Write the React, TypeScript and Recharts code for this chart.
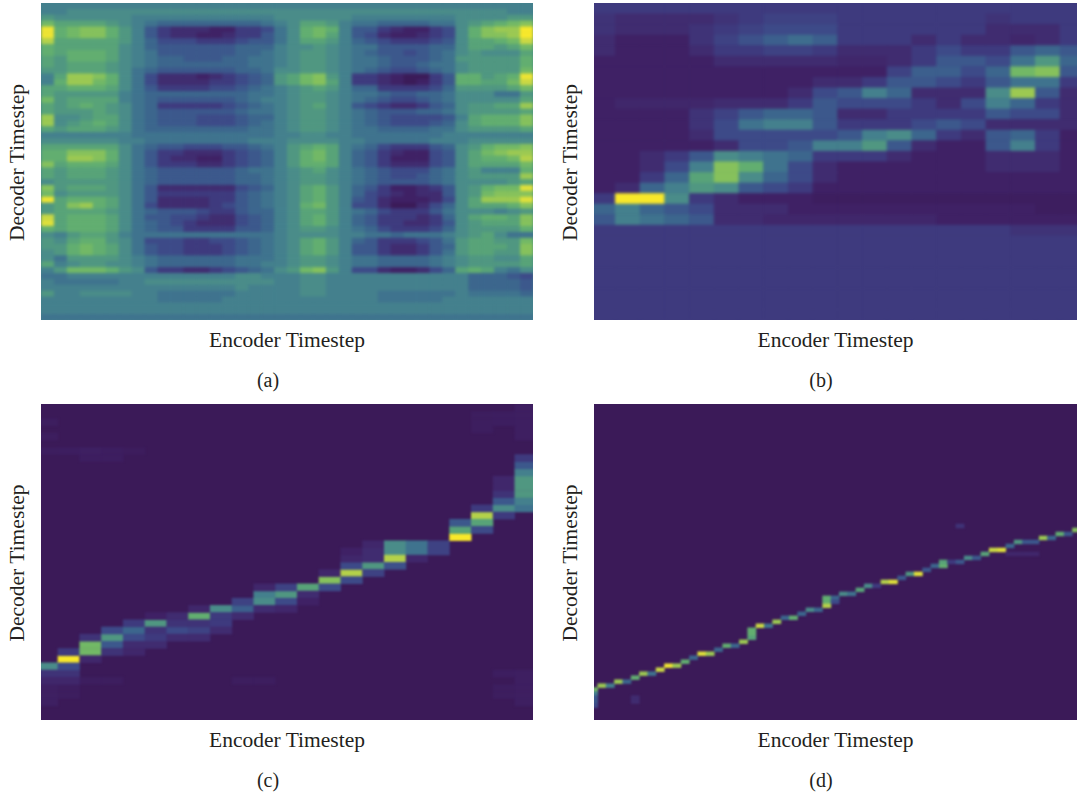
import React from "react";
import { ScatterChart, Scatter, XAxis, YAxis, CartesianGrid } from "recharts";

const xLabel = "Encoder Timestep";
const yLabel = "Decoder Timestep";
const captions = ["(a)", "(b)", "(c)", "(d)"];

const viridisSteps = ["#3b1a58","#3f2165","#402c70","#3e3a7e","#3d4a88","#3c588c","#3c668d","#3f738e","#44808d","#4a8c89","#509781","#58a378","#62ae70","#72b866","#86c15c","#9cc952","#b4d14a","#cad843","#dfe03a","#eee432","#f8e82a"];

const gridA: number[][] = [
[8,8,8,8,8,8,8,8,8,8,8,8,8,8,8,8,8,8,8,8,8,8,8,8,8,8,8,8,8,8,8,8,8,8,8,8,8,8],
[8,8,9,9,9,9,9,9,9,9,9,9,9,9,9,9,9,9,9,9,9,9,9,9,9,9,9,9,9,9,9,9,9,9,9,9,8,8],
[10,9,9,9,9,9,9,8,8,8,8,8,8,8,8,8,8,8,9,9,9,9,9,9,8,8,8,8,8,8,8,8,9,9,9,9,10,10],
[13,11,11,11,11,10,9,8,7,6,6,6,6,6,6,6,6,7,8,9,11,11,10,8,7,7,6,6,6,6,7,7,9,10,11,12,13,14],
[19,12,13,14,14,12,10,8,5,3,2,2,2,1,1,3,3,4,7,9,12,13,12,8,5,5,3,2,1,1,3,4,9,12,14,15,15,20],
[19,12,13,14,14,12,10,8,5,3,2,2,1,1,2,3,3,5,7,9,12,13,11,8,5,4,2,1,1,2,3,4,9,12,14,14,15,20],
[16,11,11,11,11,11,10,8,6,4,4,4,3,3,3,4,5,5,7,9,11,11,10,8,6,5,4,3,3,3,4,5,9,11,11,12,13,17],
[12,11,11,11,11,11,9,8,6,5,5,5,5,5,5,6,6,6,8,9,9,10,9,8,7,7,5,5,5,5,6,6,9,11,11,10,11,13],
[12,11,12,12,12,11,9,8,7,5,5,5,5,5,5,6,6,7,8,9,10,10,9,8,7,6,5,5,4,5,6,7,9,10,9,9,9,11],
[11,10,12,12,12,11,9,8,7,6,6,5,5,5,6,6,7,7,8,9,10,10,9,8,7,7,6,5,5,5,6,7,10,10,10,10,10,12],
[11,10,11,11,11,10,9,8,7,6,6,6,6,6,6,6,7,7,8,9,10,10,9,8,7,7,6,5,5,6,7,7,9,10,10,10,10,12],
[10,10,11,11,11,10,9,7,6,5,5,5,5,5,5,6,6,7,9,9,10,10,9,8,7,6,5,4,4,5,6,7,9,10,10,10,10,13],
[8,11,15,15,14,12,9,7,4,2,2,2,1,2,3,4,5,6,10,11,13,14,10,8,3,3,2,1,0,0,3,5,12,12,10,11,12,19],
[8,12,15,15,13,12,9,7,4,2,2,2,2,3,3,4,5,6,10,11,13,14,11,8,3,3,2,1,0,1,3,5,12,12,11,11,13,17],
[11,11,12,12,12,11,9,7,5,3,3,3,3,4,4,5,6,7,8,9,10,11,10,8,6,6,3,3,3,3,4,6,10,10,10,10,11,13],
[11,10,10,10,10,10,8,7,6,6,6,6,6,6,6,6,7,7,8,9,10,10,9,8,7,7,6,5,5,6,6,7,9,9,9,7,7,10],
[13,10,11,11,11,11,8,7,6,5,5,5,5,5,5,6,7,8,8,9,10,10,9,8,7,6,5,4,4,5,6,7,9,9,9,9,9,11],
[11,10,11,12,11,10,9,7,6,3,3,3,3,3,4,5,6,7,8,9,10,11,9,8,5,4,3,2,2,3,5,6,9,10,10,11,11,15],
[11,10,10,10,11,10,9,7,6,5,5,5,5,5,5,6,7,7,8,9,10,10,9,8,7,6,5,5,5,6,6,7,9,10,10,10,10,11],
[15,9,9,10,11,11,9,7,6,5,5,5,4,4,4,5,6,6,8,9,10,10,9,8,7,6,5,4,4,4,4,5,8,11,12,12,12,14],
[15,9,10,11,12,11,9,7,6,5,5,5,4,4,4,5,6,7,8,9,10,10,9,8,7,6,5,4,4,4,5,6,9,11,12,12,12,14],
[11,10,11,11,11,10,9,7,6,6,6,6,6,6,6,6,7,7,8,9,10,10,9,8,7,7,6,6,6,6,7,7,9,10,10,10,10,11],
[8,8,8,8,8,8,8,7,7,7,7,7,7,7,7,7,7,7,8,8,9,9,8,8,7,7,7,7,7,7,7,8,8,8,8,8,8,8],
[9,9,9,9,9,9,8,8,7,7,7,7,7,7,7,7,8,8,8,9,9,9,9,8,8,7,7,7,7,7,8,8,8,9,9,9,9,9],
[11,11,11,11,11,11,9,7,6,5,5,4,4,4,5,5,6,7,8,10,11,12,11,8,7,6,4,3,3,3,5,6,9,10,12,13,13,14],
[12,12,14,14,14,12,9,7,5,3,3,2,2,2,3,4,5,6,8,10,12,13,11,8,6,5,3,2,1,1,4,5,9,11,13,14,15,15],
[12,12,15,15,14,12,9,7,5,3,2,2,1,1,3,4,5,6,8,10,12,13,11,8,6,5,3,1,1,1,4,5,9,11,12,12,13,16],
[14,11,12,12,12,11,9,7,5,3,3,3,2,2,3,4,5,6,8,10,12,12,11,8,6,5,3,2,2,2,4,5,9,11,11,11,11,13],
[11,10,11,11,11,10,9,7,6,5,5,5,5,5,5,6,7,7,8,9,10,11,9,8,7,6,5,4,4,4,6,7,9,10,8,8,8,12],
[11,10,11,11,11,10,9,7,6,5,5,5,5,5,5,6,6,7,8,9,10,10,9,8,7,6,5,4,4,5,6,7,9,10,10,10,10,15],
[9,10,10,10,10,10,9,7,6,5,5,5,5,5,5,6,6,7,8,9,10,10,9,8,7,6,5,5,5,5,6,7,9,9,9,9,10,11],
[14,10,11,11,11,10,9,7,5,2,2,2,2,2,2,4,5,6,8,9,11,12,10,8,6,5,3,1,1,2,3,5,9,10,12,13,13,18],
[13,9,10,10,10,10,9,7,5,3,3,3,3,3,3,5,6,7,8,9,11,12,10,8,6,4,3,2,1,2,2,5,9,10,13,14,14,14],
[19,11,12,12,12,11,9,7,5,2,2,2,2,3,3,5,6,7,8,9,11,12,10,8,5,4,2,1,1,1,2,4,9,11,15,15,15,18],
[10,11,14,15,12,11,9,7,4,2,2,2,2,3,4,5,6,7,8,9,12,13,10,8,4,4,2,0,0,2,4,6,9,11,11,11,12,14],
[10,11,11,11,11,10,9,7,6,5,5,5,4,3,3,5,6,6,8,9,11,11,10,8,7,6,4,3,3,3,5,7,9,9,9,8,9,10],
[17,11,12,12,12,11,9,7,5,5,4,4,3,2,2,4,5,6,8,9,11,12,10,8,6,5,3,3,3,2,3,6,9,11,12,12,11,14],
[18,11,12,12,12,11,9,7,6,5,4,3,2,2,2,4,5,6,8,9,11,12,10,8,6,5,3,3,2,2,3,5,9,10,11,11,11,14],
[12,11,12,12,12,11,9,7,6,5,5,3,3,3,3,5,5,6,8,9,10,10,9,8,7,6,4,3,3,3,4,6,9,10,10,10,10,12],
[9,8,10,11,11,10,8,7,7,7,7,7,7,7,7,7,7,7,8,9,9,9,9,8,8,7,7,6,7,7,7,8,9,10,11,9,7,7],
[10,9,11,12,12,10,9,7,4,4,4,3,3,4,4,5,6,7,8,9,11,12,10,8,6,5,3,3,3,4,5,7,10,11,11,10,10,13],
[10,10,12,13,12,11,9,7,5,4,4,3,3,3,4,5,6,7,8,9,11,12,10,8,5,5,3,2,2,3,5,6,10,11,11,11,10,14],
[9,10,12,13,12,11,9,7,5,4,4,3,3,3,4,5,6,7,8,9,11,12,10,8,5,5,3,2,2,3,5,7,10,11,11,10,10,14],
[9,7,10,10,10,10,9,8,7,6,6,6,6,6,6,7,7,7,8,9,10,10,9,8,7,7,6,6,6,6,7,8,9,10,10,9,9,11],
[11,8,9,10,10,9,9,8,7,6,6,6,6,6,6,7,7,8,8,9,10,10,9,8,7,7,6,6,6,6,7,8,9,10,10,10,10,11],
[8,10,13,13,13,12,10,9,5,3,3,2,2,3,4,5,6,7,9,10,13,14,10,8,4,4,2,1,1,2,4,6,11,12,11,8,7,9],
[7,7,8,8,8,8,8,8,8,8,8,8,8,8,8,9,9,8,8,8,9,9,8,8,8,8,8,8,8,8,8,8,8,6,6,6,5,4],
[8,7,7,7,7,7,8,8,9,9,9,9,9,9,9,9,9,9,8,8,9,9,8,8,8,8,8,8,8,8,8,8,8,6,6,6,6,5],
[8,8,8,8,8,8,8,8,8,8,8,8,8,8,8,9,8,8,8,8,9,9,8,8,8,8,8,8,8,8,8,8,8,6,6,6,6,5],
[10,8,8,9,9,9,9,8,8,7,7,7,7,7,7,8,8,8,8,8,9,9,8,8,8,8,7,7,7,7,7,7,8,7,7,7,7,6],
[8,8,8,8,8,8,8,8,8,7,7,7,7,7,8,8,8,8,8,8,8,8,8,8,8,8,7,7,7,7,7,8,8,8,8,8,8,8],
[8,8,8,8,8,8,8,8,8,8,8,8,8,8,8,8,8,8,8,8,8,8,8,8,8,8,8,8,8,8,8,8,8,8,8,8,8,8],
[8,8,8,8,8,8,8,8,8,8,8,8,8,8,8,8,8,8,8,8,8,8,8,8,8,8,8,8,8,8,8,8,8,8,8,8,8,8],
[7,7,7,7,7,7,7,7,7,7,7,7,7,7,7,7,7,7,7,7,7,7,7,7,7,7,7,7,7,7,7,7,7,7,7,7,7,7],
];

const gridB: number[][] = [
[3,3,3,3,3,3,3,3,3,3,3,3,3,3,3,3,3,3,3,3],
[2.5,2,2,2,2,2.5,3,3.5,3.5,3.5,3,3,3,3,3,3,2.5,3,3,3],
[2.5,2,2,2,2.5,3,3.5,4,4,4,3,3,3,3,3,3,2,2,2,3],
[2,1,1,1,2.5,3.5,4.5,5.5,6.5,5.5,3,3,3,2,3,2,2,1.5,2,3],
[2,1,1,1,2,3,3,3.5,3.5,3,2,2,2,3,4,3,3,5,6,5],
[1,1,1,1,1,2,2,2,2,2,1.5,1.5,2,3,5,5,4,7,10,6],
[1,1,1,1,1,1,1,1,1,1,1,1,3.5,5.5,5.5,4,6,13,14,5],
[1,1,1,1,1,1,1,1,1,2,2,3,5,5,4,3,5,7,7,3],
[1,1,1,1,1,1,1,1,2,4,5,8,6,2,2,2,9,15,5,2],
[1,1.5,1.5,1.5,1.5,2,2,2,3,5,4,4,4,3,2,4,8,6,3,2],
[1,1,1,1,2.5,3.5,5,6,6,5,2,2,3,3,3,3,5,4,4,2],
[1,1,1,1,2.5,4,7,8,8,5,3,3,3,4,5,4,2,2,2,2],
[1,1,1,1,2,4,4,4,4,4,5,8,9,6,3,2,5,6,3,1],
[1,1,1,1,1,2,4,4,5,8,8,10,5,2,1,1,5,8,3,1],
[1,1,2,3,5,9,8,7,6,3,3,3,2,1,1,1,2,2,2,1],
[1,1,2,4,8,14,12,7,4,2,1,1,1,1,1,1,2,2,2,1],
[1,1,3,6,11,14,9,6,4,2,1,1,1,1,1,1,1,1,1,1],
[1,2,6,8,10,9,5,4,3,1,1,1,1,1,1,1,1,1,1,1],
[3,20,20,9,3,2,1,1,1,0.5,0.5,0.5,0.5,0.5,0.5,0.5,0.5,0.5,0.5,0.5],
[6,8,6,5,4,2,2,2,1,1,1,1,1,1,1,1,1,1,0.5,0.5],
[5,8,7,6,5,2,2,1.5,1.5,1.5,1.5,1.5,1.5,1.5,1,1,1,1,1,1],
[3,3,3,3,3,3,3,3,3,3,3,3,3,3,3,3,3,2.5,2.5,2.5],
[3,3,3,3,3,3,3,3,3,3,3,3,3,3,3,3,3,3,3,3],
[3,3,3,3,3,3,3,3,3,3,3,3,3,3,3,3,3,3,3,3],
[3,3,3,3,3,3,3,3,3,3,3,3,3,3,3,3,3,3,3,3],
[3,3,3,3,3,3,3,3,3,3,3,3,3,3,3,3,3,3,3,3],
[3,3,3,3,3,3,3,3,3,3,3,3,3,3,3,3,3,3,3,3],
[3,3,3,3,3,3,3,3,3,3,3,3,3,3,3,3,3,3,3,3],
[3,3,3,3,3,3,3,3,3,3,3,3,3,3,3,3,3,3,3,3],
[3,3,3,3,3,3,3,3,3,3,3,3,3,3,3,3,3,3,3,3],
];

// [column, row, level]
const cellsC: number[][] = [
[0,36,9],[0,37,2.5],[0,38,1.5],[1,37,2.5],[1,38,1.5],
[1,35,20],[1,34,3],[1,36,4],
[2,33,13],[2,34,13],[2,32,2.5],[2,35,1.5],
[3,32,10],[3,31,4],[3,33,5],[3,34,2.5],
[4,31,6],[4,30,3],[4,32,4],[4,33,2],[4,34,1.5],
[5,30,10],[5,31,2.5],[5,32,3],[5,33,2],[5,29,1],
[6,31,4],[6,30,2.5],[6,29,2],[6,32,2],
[7,29,12],[7,31,3.5],[7,30,2.5],[7,28,1.5],[7,32,2],
[8,28,9],[8,29,3],[8,30,3],[8,31,2],
[9,28,5.5],[9,27,3.5],[9,29,2],
[10,26,8],[10,27,9],[10,25,1.5],[10,28,2],
[11,26,10],[11,25,3.5],[11,27,4],[11,28,1.5],
[12,25,11],[12,26,2],[12,27,1],
[13,24,14],[13,25,4],[13,23,1.5],
[14,23,16],[14,22,4],[14,24,4],[14,21,1.5],[14,20,1],
[15,22,10],[15,23,3.5],[15,21,2],[15,20,2],[15,19,1.5],
[16,19,9],[16,20,9],[16,21,16],[16,22,4.5],
[17,19,7],[17,20,7],[17,21,1.5],
[18,19,3.5],[18,20,3.5],
[19,18,20],[19,17,11],[19,16,5],
[20,15,16],[20,16,11],[20,14,3],[20,17,4],
[21,14,9],[21,13,5],[21,15,3],[21,12,2.5],[21,11,1.5],[21,10,1.5],
[22,14,7],[22,13,8],[22,12,10],[22,11,10],[22,10,10],[22,9,8],[22,8,5],[22,7,3],
];
const faintC: number[][] = [
[1,6,0.6],[2,6,0.8],[3,6,0.6],[2,7,0.6],[3,7,0.6],[4,6,0.4],[0,2,0.5],[0,4,0.5],[0,6,0.5],[20,1,0.5],[20,2,0.5],[20,3,0.5],[21,1,0.6],[21,2,0.6],[22,0,0.7],[22,1,0.7],[22,2,0.7],[22,3,0.7],[22,4,0.7],
[2,38,0.5],[3,38,0.5],[9,38,0.5],[10,38,0.5],[21,37,0.6],[22,37,0.7],[22,38,0.7],[22,39,0.7],[22,40,0.7],[22,41,0.7],[21,39,0.5],[21,40,0.5],[0,39,0.8],[0,40,0.8],[0,41,0.8],[1,39,0.5],[1,40,0.5],
];

const cellsD: number[][] = [
[0,71,13],[0,72,8],[0,73,5],[0,74,5],[0,75,4],[1,70,15],[2,70,8],[3,69,15],[4,69,6],[5,68,12],[6,67,15],[7,67,7],[8,66,17],[9,65,19],
[10,65,15],[11,64,12],[12,63,6],[13,62,18],[14,62,15],[15,61,6],[16,60,12],[17,60,6],[18,59,15],
[19,56,12],[19,57,12],[19,58,11],[20,55,17],[21,55,7],[22,54,15],[23,53,6],[24,53,12],[25,52,6],[26,51,9],[27,51,6],
[28,48,12],[28,49,12],[28,50,16],[29,48,6],[29,49,4],[30,47,9],[31,47,7],[32,46,11],[33,45,9],[34,45,3],
[35,44,16],[36,44,18],[37,43,5],[38,42,10],[39,42,18],[40,41,5],[41,40,6],[42,40,12],[42,39,11],[43,39,3],[44,39,5],
[45,38,9],[46,38,5],[47,37,11],[48,36,17],[49,36,18],[50,35,6],[51,34,10],[52,34,5],[53,34,5],[54,33,15],[55,33,6],[56,32,12],[57,32,5],[58,31,14],
[44,30,2.5],[50,37,1.5],[51,37,1.5],[52,37,1.5],[53,37,1.5],[5,73,2],[5,74,2],
];

type Cell = { x: number; y: number; v: number };
const fromGrid = (g: number[][]): Cell[] =>
  g.flatMap((row, r) => row.map((v, c) => ({ x: c + 0.5, y: r + 0.5, v })));
const fromList = (...lists: number[][][]): Cell[] =>
  lists.flat().map(([c, r, v]) => ({ x: c + 0.5, y: r + 0.5, v }));

const hexRgb = (h: string) => [1, 3, 5].map((i) => parseInt(h.slice(i, i + 2), 16));
const colorOf = (v: number) => {
  const t = Math.max(0, Math.min(20, v));
  const lo = Math.floor(t);
  const hi = Math.min(20, lo + 1);
  const a = hexRgb(viridisSteps[lo]);
  const b = hexRgb(viridisSteps[hi]);
  const m = a.map((c, i) => Math.round(c + (b[i] - c) * (t - lo)));
  return `rgb(${m[0]},${m[1]},${m[2]})`;
};

type PanelDef = {
  cells: Cell[]; xDomain: [number, number]; yDomain: [number, number];
  plotLeft: number; plotTop: number; plotW: number; plotH: number;
  bg: string; blur: number; cls: string; caption: string; capX: number; capY: number;
};

const panels: PanelDef[] = [
  { cells: fromGrid(gridA), xDomain: [0, 38], yDomain: [0, 54], plotLeft: 41, plotTop: 3, plotW: 492, plotH: 317, bg: "#44808d", blur: 1.5, cls: "pa", caption: captions[0], capX: 268, capY: 380 },
  { cells: fromGrid(gridB), xDomain: [0.15, 19.7], yDomain: [0, 30], plotLeft: 594, plotTop: 3, plotW: 483, plotH: 317, bg: "#3e3a7e", blur: 1.5, cls: "pb", caption: captions[1], capX: 821, capY: 380 },
  { cells: fromList(faintC, cellsC), xDomain: [0.234, 22.85], yDomain: [0, 44], plotLeft: 41, plotTop: 404, plotW: 492, plotH: 316, bg: "#3b1a58", blur: 0.9, cls: "pc", caption: captions[2], capX: 268, capY: 780 },
  { cells: fromList(cellsD), xDomain: [0.58, 58.58], yDomain: [0, 79.17], plotLeft: 594, plotTop: 404, plotW: 483, plotH: 316, bg: "#3b1a58", blur: 0.8, cls: "pd", caption: captions[3], capX: 821, capY: 780 },
];

const AXIS_W = 41;
const AXIS_H = 40;
const FONT = "'Liberation Serif', serif";
const INK = "#231f20";

function Panel({ p }: { p: PanelDef }) {
  const w = p.plotW / (p.xDomain[1] - p.xDomain[0]);
  const h = p.plotH / (p.yDomain[1] - p.yDomain[0]);
  const shape = (props: any) => {
    const v = props.payload?.v ?? props.v ?? 0;
    return <rect x={props.cx - w / 2} y={props.cy - h / 2} width={w + 0.5} height={h + 0.5} fill={colorOf(v)} />;
  };
  return (
    <div className={p.cls} style={{ position: "absolute", left: p.plotLeft - AXIS_W, top: p.plotTop }}>
      <ScatterChart width={p.plotW + AXIS_W} height={p.plotH + AXIS_H} margin={{ top: 0, right: 0, bottom: 0, left: 0 }}>
        <CartesianGrid horizontal={false} vertical={false} fill={p.bg} />
        <XAxis type="number" dataKey="x" domain={p.xDomain} allowDataOverflow height={AXIS_H} tick={false} tickLine={false} axisLine={false}
          label={{ value: xLabel, position: "center", dy: -1, fill: INK, fontSize: 21.5, fontFamily: FONT }} />
        <YAxis type="number" dataKey="y" domain={p.yDomain} reversed allowDataOverflow width={AXIS_W} tick={false} tickLine={false} axisLine={false}
          label={{ value: yLabel, position: "center", angle: -90, dx: -4, dy: 1, fill: INK, fontSize: 21.5, fontFamily: FONT }} />
        <Scatter data={p.cells} isAnimationActive={false} shape={shape} />
      </ScatterChart>
    </div>
  );
}

export default function App() {
  const css = panels.map((p) => `.${p.cls} svg.recharts-surface g.recharts-scatter{filter:blur(${p.blur}px)}`).join("\n");
  return (
    <div style={{ position: "absolute", left: 0, top: 0, width: 1077, height: 797, background: "#fff", overflow: "hidden" }}>
      <style>{css}</style>
      {panels.map((p) => <Panel key={p.cls} p={p} />)}
      {panels.map((p) => (
        <div key={p.caption} style={{ position: "absolute", left: p.capX - 30, width: 60, top: p.capY - 12, textAlign: "center", fontFamily: FONT, fontSize: 20, lineHeight: "24px", color: INK }}>
          {p.caption}
        </div>
      ))}
    </div>
  );
}
